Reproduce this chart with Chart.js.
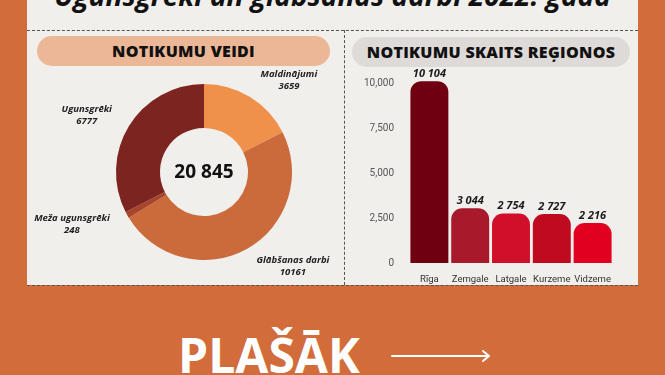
<!DOCTYPE html>
<html lang="lv">
<head>
<meta charset="utf-8">
<script src="https://cdn.jsdelivr.net/npm/chart.js@4.4.1/dist/chart.umd.min.js"></script>
<style>
  html, body { margin: 0; padding: 0; }
  body { width: 665px; height: 375px; background: #d26c3a; position: relative; overflow: hidden; font-family: "Open Sans", sans-serif; }
  .panel { position: absolute; left: 27px; top: 0; width: 611px; height: 285px; background: #f1efec; }
  .title { position: absolute; left: 0; width: 665px; top: -27px; text-align: center; font-size: 28px; font-weight: 700; font-style: italic; color: #111; line-height: 44px; white-space: nowrap; }
  .dash-h { position: absolute; height: 0; border-top: 1px dashed #555; }
  .dash-v { position: absolute; width: 0; border-left: 1px dashed #555; }
  .pill { position: absolute; height: 30px; border-radius: 15px; text-align: center; line-height: 30px; font-size: 16px; font-weight: 800; letter-spacing: 0.3px; color: #111; }
  #donut { position: absolute; left: 27px; top: 66px; }
  #bars { position: absolute; left: 344px; top: 66px; }
  .more { position: absolute; left: 178px; top: 325px; font-size: 48px; font-weight: 700; color: #fff; line-height: 60px; }
  .arrow { position: absolute; left: 390px; top: 348px; }
</style>
</head>
<body>
<div class="panel"></div>
<div class="title">Ugunsgrēki un glābšanas darbi 2022. gadā</div>
<div class="dash-h" style="left:27px; top:30px; width:611px;"></div>
<div class="dash-h" style="left:27px; top:285px; width:611px;"></div>
<div class="dash-v" style="left:344px; top:30px; height:255px;"></div>
<div class="pill" style="left:37px; top:36px; width:293px; background:#ebb797;">NOTIKUMU VEIDI</div>
<div class="pill" style="left:352px; top:37px; width:278px; background:#dedad8;">NOTIKUMU SKAITS REĢIONOS</div>
<canvas id="donut" width="316" height="219"></canvas>
<canvas id="bars" width="294" height="219"></canvas>
<div class="more">PLAŠĀK</div>
<svg class="arrow" width="104" height="16" viewBox="0 0 104 16">
  <line x1="2" y1="8" x2="98" y2="8" stroke="#fff" stroke-width="2" stroke-linecap="round"/>
  <polyline points="93,3 99,8 93,13" fill="none" stroke="#fff" stroke-width="2" stroke-linecap="round" stroke-linejoin="round"/>
</svg>

<script>
// notikumu veidi (apļa diagramma)
const veidi = ['Maldinājumi', 'Glābšanas darbi', 'Meža ugunsgrēki', 'Ugunsgrēki'];
const veidiSkaits = [3659, 10161, 248, 6777];
const veidiKrasas = ['#f0914b', '#cb6a3b', '#a8442b', '#7c241f'];

// notikumu skaits reģionos (stabiņu diagramma)
const regioni = ['Rīga', 'Zemgale', 'Latgale', 'Kurzeme', 'Vidzeme'];
const regionuSkaits = [10104, 3044, 2754, 2727, 2216];
const regionuKrasas = ['#6e0012', '#a8192b', '#d0102a', '#c00a20', '#e1001f'];
const yTicks = [0, 2500, 5000, 7500, 10000];

const labelFont = 'italic 700 9.5px "Open Sans"';

function atstarpes(n) {
    return String(n).replace(/\B(?=(\d{3})+(?!\d))/g, ' ');
}

// etiķetes ap apli + kopsumma centrā
const donutLabels = {
    id: 'donutLabels',
    afterDatasetsDraw(chart) {
        const ctx = chart.ctx;
        const meta = chart.getDatasetMeta(0);
        ctx.save();
        ctx.fillStyle = '#222';
        ctx.font = labelFont;
        ctx.textAlign = 'center';
        ctx.textBaseline = 'middle';
        meta.data.forEach(function (arc, i) {
            const p = arc.getProps(['x', 'y', 'startAngle', 'endAngle', 'outerRadius'], true);
            const mid = (p.startAngle + p.endAngle) / 2;
            const r = p.outerRadius + 20;
            const px = p.x + Math.cos(mid) * r;
            const py = p.y + Math.sin(mid) * r;
            const lines = [veidi[i], String(veidiSkaits[i])];
            const w = Math.max.apply(null, lines.map(function (l) { return ctx.measureText(l).width; }));
            const cx = Math.cos(mid) >= 0 ? px + w / 2 : px - w / 2;
            ctx.fillText(lines[0], cx, py - 6);
            ctx.fillText(lines[1], cx, py + 6);
        });
        // kopsumma
        const total = veidiSkaits.reduce(function (a, b) { return a + b; }, 0);
        const c = meta.data[0];
        ctx.font = '700 19px "Open Sans"';
        ctx.fillStyle = '#111';
        ctx.fillText(atstarpes(total), c.x, c.y + 1);
        ctx.restore();
    }
};

new Chart(document.getElementById('donut'), {
    type: 'doughnut',
    data: {
        labels: veidi,
        datasets: [{
            data: veidiSkaits,
            backgroundColor: veidiKrasas,
            borderWidth: 0
        }]
    },
    options: {
        responsive: false,
        animation: false,
        cutout: '50%',
        layout: { padding: { left: 89, right: 51, top: 18, bottom: 25 } },
        plugins: { legend: { display: false }, tooltip: { enabled: false } }
    },
    plugins: [donutLabels]
});

// vērtības virs stabiņiem
const barLabels = {
    id: 'barLabels',
    afterDatasetsDraw(chart) {
        const ctx = chart.ctx;
        const meta = chart.getDatasetMeta(0);
        ctx.save();
        ctx.fillStyle = '#1a1a1a';
        ctx.font = 'italic 700 11px "Open Sans"';
        ctx.textAlign = 'center';
        ctx.textBaseline = 'bottom';
        meta.data.forEach(function (bar, i) {
            ctx.fillText(atstarpes(regionuSkaits[i]), bar.x, bar.y - 2);
        });
        ctx.restore();
    }
};

new Chart(document.getElementById('bars'), {
    type: 'bar',
    data: {
        labels: regioni,
        datasets: [{
            data: regionuSkaits,
            backgroundColor: regionuKrasas,
            borderRadius: { topLeft: 11, topRight: 11 },
            borderSkipped: 'bottom',
            barPercentage: 0.93,
            categoryPercentage: 1,
            clip: false
        }]
    },
    options: {
        responsive: false,
        animation: false,
        locale: 'en-US',
        layout: { padding: { left: 0, right: 25, top: 17, bottom: 0 } },
        scales: {
            x: {
                grid: { display: false },
                border: { display: false },
                ticks: { color: '#333', font: { size: 9.5, family: 'Roboto' }, padding: 3, maxRotation: 0, minRotation: 0, autoSkip: false },
                afterFit: function (scale) { scale.height = 22; }
            },
            y: {
                min: 0,
                max: 10000,
                grid: { display: false },
                border: { display: false },
                afterBuildTicks: function (scale) {
                    scale.ticks = yTicks.map(function (v) { return { value: v }; });
                },
                ticks: { color: '#555', font: { size: 10, family: 'Roboto' }, padding: 7 },
                afterFit: function (scale) { scale.width = 65; }
            }
        },
        plugins: { legend: { display: false }, tooltip: { enabled: false } }
    },
    plugins: [barLabels]
});
</script>
</body>
</html>
